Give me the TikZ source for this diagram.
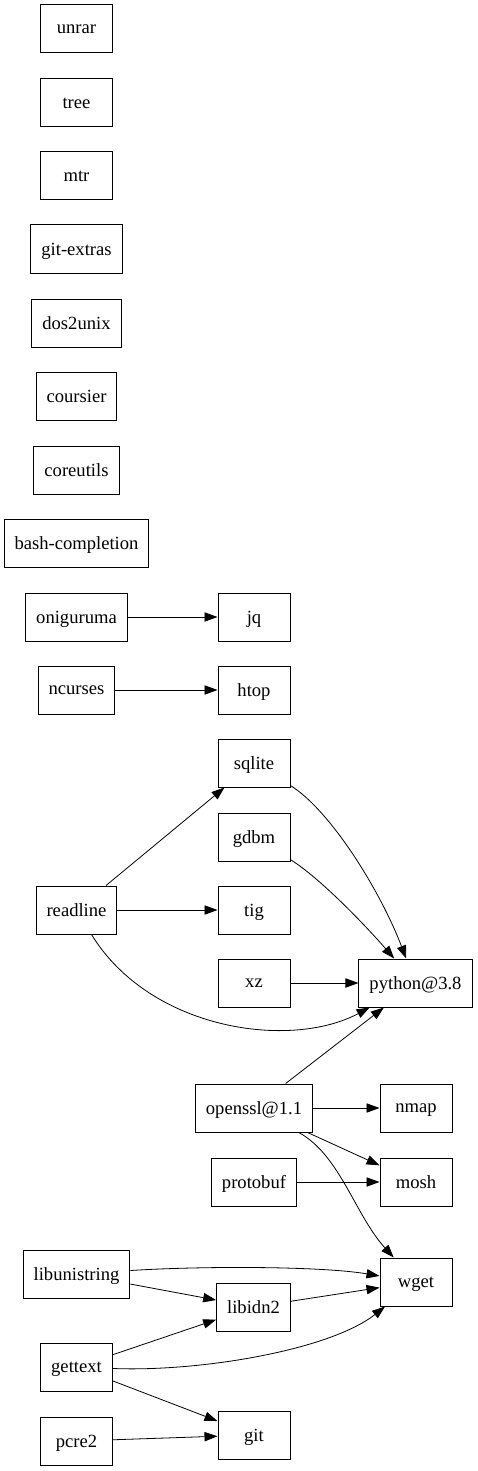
\documentclass[tikz,border=0pt]{standalone}
\usepackage{fontspec}
\setmainfont{Liberation Serif}
\newfontfamily\pkgfont{Liberation Serif}
\usetikzlibrary{arrows.meta}

\begin{document}
\begin{tikzpicture}[x=1pt,y=-1pt,
    pkg/.style={draw,line width=1pt,rectangle,minimum width=72pt,minimum height=48pt,
      inner xsep=10.5pt,text depth=0pt,yshift=0pt,font=\pkgfont\fontsize{18.6}{22}\selectfont},
    dep/.style={-{Triangle[length=13pt,width=9.3pt]},line width=0.8pt}]
      \useasboundingbox (0,0) rectangle (477,1471);

      % packages with no links
      \node [pkg] (unrar) at (76.5,29) {unrar};
      \node [pkg] (tree) at (76.5,103) {tree};
      \node [pkg] (mtr) at (76.5,176) {mtr};
      \node [pkg] (gitextras) at (76.5,249) {git-extras};
      \node [pkg] (dostounix) at (76.5,323) {dos2unix};
      \node [pkg] (coursier) at (76.5,396) {coursier};
      \node [pkg] (coreutils) at (76.5,470) {coreutils};
      \node [pkg] (bashcompl) at (76.5,543) {bash-completion};

      % left column
      \node [pkg] (oniguruma) at (76.5,617) {oniguruma};
      \node [pkg] (ncurses) at (76.5,690) {ncurses};
      \node [pkg] (readline) at (76.5,910) {readline};
      \node [pkg] (libunistring) at (76.5,1274) {libunistring};
      \node [pkg] (gettext) at (76.5,1367) {gettext};
      \node [pkg] (pcre) at (76.5,1441) {pcre2};

      % middle column
      \node [pkg] (jq) at (254,617) {jq};
      \node [pkg] (htop) at (254,690) {htop};
      \node [pkg] (sqlite) at (254,763) {sqlite};
      \node [pkg] (gdbm) at (254,837) {gdbm};
      \node [pkg] (tig) at (254,910) {tig};
      \node [pkg] (xz) at (254,983) {xz};
      \node [pkg] (openssl) at (254,1108) {openssl@1.1};
      \node [pkg] (protobuf) at (254,1182) {protobuf};
      \node [pkg] (libidn) at (253.5,1307) {libidn2};
      \node [pkg] (git) at (254,1435) {git};

      % right column
      \node [pkg] (python) at (415.5,983) {python@3.8};
      \node [pkg] (nmap) at (416,1108) {nmap};
      \node [pkg] (mosh) at (416,1182) {mosh};
      \node [pkg] (wget) at (416,1282) {wget};

      \draw [dep] (oniguruma) -- (jq);
      \draw [dep] (ncurses) -- (htop);
      \draw [dep] (readline) -- (sqlite);
      \draw [dep] (readline) -- (tig);
      \draw [dep] (readline) .. controls (150,1030) and (290,1050) .. (python);
      \draw [dep] (sqlite) .. controls (330,810) and (380,890) .. (python);
      \draw [dep] (gdbm) .. controls (320,878) and (365,925) .. (python);
      \draw [dep] (xz) -- (python);
      \draw [dep] (openssl) -- (python);
      \draw [dep] (openssl) -- (nmap);
      \draw [dep] (openssl) -- (mosh);
      \draw [dep] (openssl) .. controls (340,1155) and (355,1215) .. (wget);
      \draw [dep] (protobuf) -- (mosh);
      \draw [dep] (libunistring) .. controls (200,1266) and (320,1266) .. (wget);
      \draw [dep] (libunistring) -- (libidn);
      \draw [dep] (libidn) -- (wget);
      \draw [dep] (gettext) -- (libidn);
      \draw [dep] (gettext) .. controls (200,1372) and (330,1350) .. (wget);
      \draw [dep] (gettext) -- (git);
      \draw [dep] (pcre) -- (git);
\end{tikzpicture}
\end{document}
